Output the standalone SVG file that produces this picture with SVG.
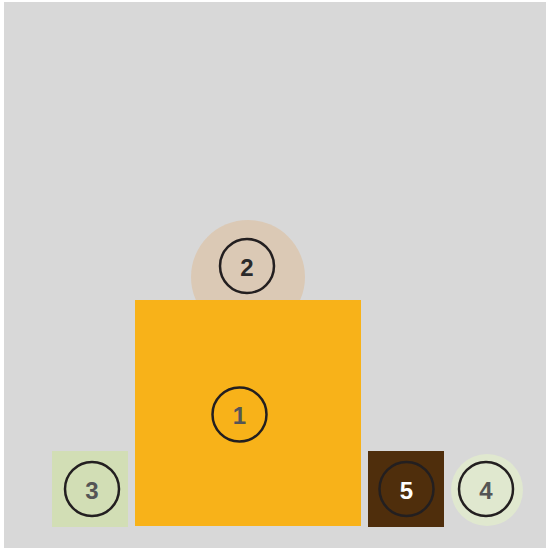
<svg xmlns="http://www.w3.org/2000/svg" width="547" height="548" viewBox="0 0 547 548">
<style>
.ring{fill:none;stroke:#231f20;stroke-width:2.5}
.lbl{font-family:"Liberation Sans",Arial,sans-serif;font-weight:bold;font-size:24px;text-anchor:middle;dominant-baseline:central}
</style>
<rect x="0" y="0" width="547" height="548" fill="#ffffff"/>
<rect x="4" y="2" width="542" height="546" fill="#d8d8d8"/>
<g id="node2">
<circle cx="248" cy="277" r="57" fill="#dbc9b5"/>
</g>
<g id="node1">
<rect x="135" y="300" width="226" height="226" fill="#f8b219"/>
<circle class="ring" cx="239.5" cy="414.5" r="27"/>
<text class="lbl" x="239.5" y="415" fill="#555555">1</text>
</g>
<g id="node2label">
<circle class="ring" cx="247" cy="266" r="27"/>
<text class="lbl" x="247" y="267" fill="#2a2a2a">2</text>
</g>
<g id="node3">
<rect x="52" y="451" width="76" height="76" fill="#d2deb5"/>
<circle class="ring" cx="92" cy="489" r="27"/>
<text class="lbl" x="92" y="490" fill="#555555">3</text>
</g>
<g id="node5">
<rect x="368" y="451" width="76" height="76" fill="#4f2e0c"/>
<circle class="ring" cx="406.5" cy="489" r="27"/>
<text class="lbl" x="406.5" y="490" fill="#ffffff">5</text>
</g>
<g id="node4">
<circle cx="487" cy="490" r="36" fill="#e0e8cf"/>
<circle class="ring" cx="486" cy="489" r="27"/>
<text class="lbl" x="486" y="490" fill="#555555">4</text>
</g>
<g id="connectors"/>
</svg>
